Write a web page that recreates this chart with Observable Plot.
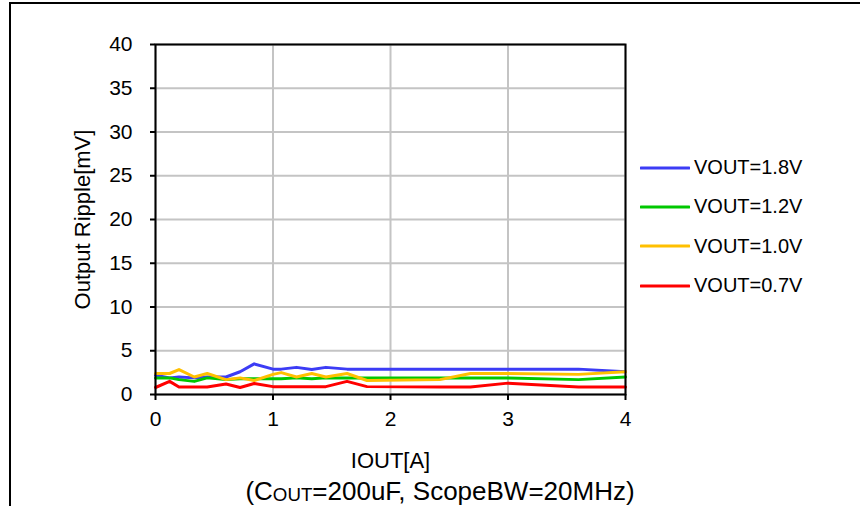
<!DOCTYPE html>
<html>
<head>
<meta charset="utf-8">
<script src="https://cdn.jsdelivr.net/npm/d3@7"></script>
<script src="https://cdn.jsdelivr.net/npm/@observablehq/plot@0.6"></script>
<style>
html, body { margin: 0; padding: 0; background: #fff; width: 860px; height: 506px; overflow: hidden; font-family: "Liberation Sans", Arial, sans-serif; }
#wrap { position: relative; width: 860px; height: 506px; overflow: hidden; }
#border { position: absolute; left: 9px; top: 2px; width: 900px; height: 600px; border-top: 2px solid #000; border-left: 2px solid #000; box-sizing: border-box; }
#chart { position: absolute; left: 0; top: 0; }
#legend { position: absolute; left: 640px; top: 148px; }
.item { display: flex; align-items: center; height: 39.3px; font-size: 20px; color: #000; }
.item svg { display: block; margin-right: 4px; }
#caption { position: absolute; left: 0; width: 880px; top: 476px; text-align: center; font-size: 26px; line-height: 30px; color: #000; }
#caption .sub { font-size: 0.72em; position: relative; top: 0.08em; }
</style>
</head>
<body>
<div id="wrap">
  <div id="border"></div>
  <div id="chart"></div>
  <div id="legend"></div>
  <div id="caption">(C<span class="sub">OUT</span>=200uF, ScopeBW=20MHz)</div>
</div>
<script>
// ---- data ----
const IOUT = [0, 0.12, 0.2, 0.33, 0.44, 0.6, 0.72, 0.84, 1.0, 1.07, 1.2, 1.33, 1.45, 1.63, 1.8, 2.42, 2.68, 3.0, 3.6, 4.0];
const VOUT_1_8 = [2.2, 1.9, 2.0, 1.9, 2.0, 2.0, 2.6, 3.5, 2.9, 2.9, 3.1, 2.85, 3.1, 2.9, 2.9, 2.9, 2.9, 2.9, 2.9, 2.6];
const VOUT_1_2 = [1.9, 1.9, 1.7, 1.5, 1.9, 1.7, 1.8, 1.8, 1.8, 1.8, 1.9, 1.8, 1.9, 1.9, 1.9, 1.9, 1.9, 1.9, 1.7, 2.0];
const VOUT_1_0 = [2.4, 2.4, 2.85, 2.0, 2.4, 1.7, 1.9, 1.6, 2.3, 2.5, 2.0, 2.4, 2.0, 2.4, 1.6, 1.7, 2.4, 2.4, 2.3, 2.6];
const VOUT_0_7 = [0.8, 1.5, 0.85, 0.85, 0.85, 1.2, 0.8, 1.25, 0.9, 0.9, 0.9, 0.9, 0.9, 1.5, 0.9, 0.85, 0.85, 1.3, 0.85, 0.85];
const SERIES = ["VOUT=1.8V", "VOUT=1.2V", "VOUT=1.0V", "VOUT=0.7V"];
const COLORS = ["#3c3cf5", "#00c800", "#ffc000", "#ff0000"];
const X_TICKS = [0, 1, 2, 3, 4];
const Y_TICKS = [0, 5, 10, 15, 20, 25, 30, 35, 40];
const X_LABEL = "IOUT[A]";
const Y_LABEL = "Output Ripple[mV]";

const VALUES = [VOUT_1_8, VOUT_1_2, VOUT_1_0, VOUT_0_7];
const rows = [];
SERIES.forEach((s, i) => IOUT.forEach((x, j) => rows.push({series: s, iout: x, ripple: VALUES[i][j]})));

const chart = Plot.plot({
  width: 860,
  height: 470,
  marginLeft: 155,
  marginRight: 235,
  marginTop: 44,
  marginBottom: 76,
  style: {fontFamily: "'Liberation Sans', Arial, sans-serif", fontSize: "21px", color: "#000", background: "transparent", overflow: "visible"},
  x: {domain: [0, 4]},
  y: {domain: [0, 40]},
  color: {domain: SERIES, range: COLORS},
  marks: [
    Plot.gridX(X_TICKS, {stroke: "#c4c4c4", strokeOpacity: 1, strokeWidth: 2}),
    Plot.gridY(Y_TICKS, {stroke: "#c4c4c4", strokeOpacity: 1, strokeWidth: 2}),
    Plot.axisX(X_TICKS, {tickSize: 6, tickPadding: 11, strokeWidth: 2, tickFormat: d3.format("d"), fontSize: 21, label: null}),
    Plot.axisX({tickSize: 0, ticks: [], label: X_LABEL, labelAnchor: "center", labelArrow: "none", labelOffset: 73, fontSize: 22}),
    Plot.axisY(Y_TICKS, {tickSize: 5, tickPadding: 18, strokeWidth: 2, tickFormat: d3.format("d"), fontSize: 21, label: null}),
    Plot.axisY({tickSize: 0, ticks: [], label: Y_LABEL, labelAnchor: "center", labelArrow: "none", labelOffset: 81, fontSize: 22}),
    Plot.lineY(rows, {x: "iout", y: "ripple", z: "series", stroke: "series", strokeWidth: 3}),
    Plot.frame({stroke: "#000", strokeWidth: 2})
  ]
});
document.getElementById("chart").appendChild(chart);

// legend
const legend = d3.select("#legend");
SERIES.forEach((s, i) => {
  const item = legend.append("div").attr("class", "item");
  const svg = item.append("svg").attr("width", 50).attr("height", 6);
  svg.append("line").attr("x1", 1).attr("x2", 49).attr("y1", 3).attr("y2", 3)
    .attr("stroke", COLORS[i]).attr("stroke-width", 3.2).attr("stroke-linecap", "round");
  item.append("span").text(s);
});
</script>
</body>
</html>
